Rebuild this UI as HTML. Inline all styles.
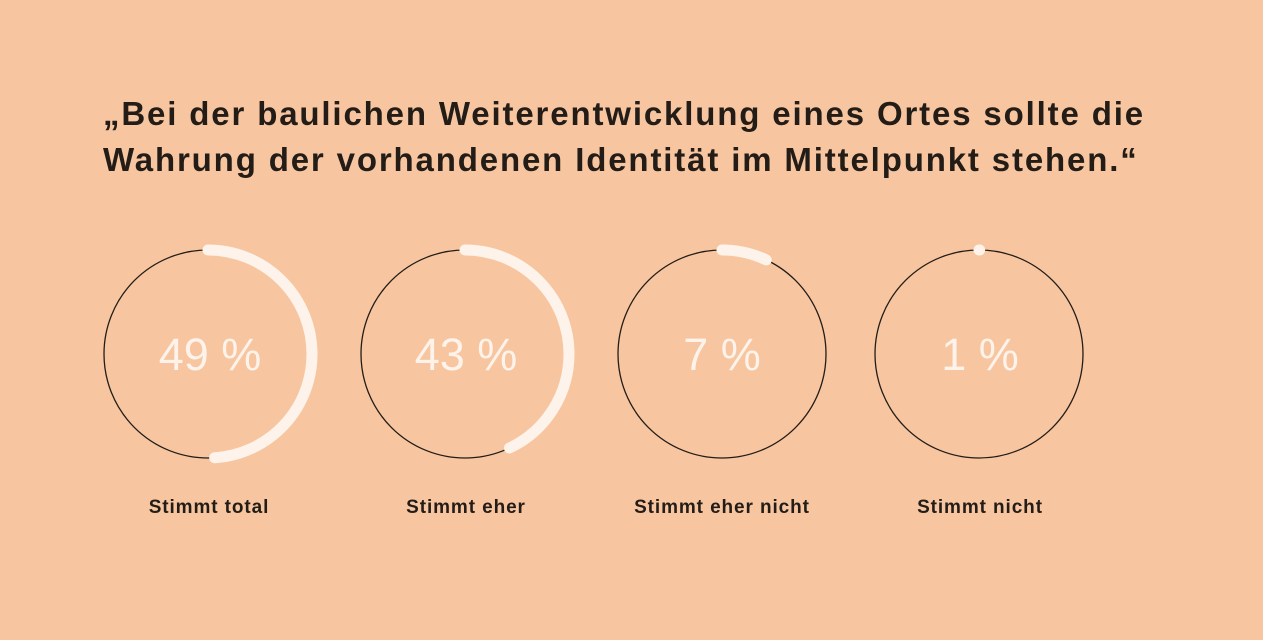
<!DOCTYPE html>
<html><head><meta charset="utf-8"><style>
html,body{margin:0;padding:0}
body{width:1263px;height:640px;background:#f7c6a0;position:relative;overflow:hidden;font-family:"Liberation Sans",sans-serif}
.t{position:absolute;left:103px;top:91px;font-size:33px;font-weight:bold;color:#231c17;line-height:46px;letter-spacing:1.85px;white-space:nowrap}
.l{position:absolute;top:497px;width:240px;text-align:center;font-size:19px;font-weight:bold;color:#231c17;letter-spacing:0.9px}
</style></head><body>
<div class="t">„Bei der baulichen Weiterentwicklung eines Ortes sollte die<br>Wahrung der vorhandenen Identität im Mittelpunkt stehen.“</div>
<svg width="1263" height="640" style="position:absolute;left:0;top:0">
<g fill="none">
<circle cx="208" cy="354" r="104" stroke="#231c17" stroke-width="1.3"/>
<circle cx="465" cy="354" r="104" stroke="#231c17" stroke-width="1.3"/>
<circle cx="722" cy="354" r="104" stroke="#231c17" stroke-width="1.3"/>
<circle cx="979" cy="354" r="104" stroke="#231c17" stroke-width="1.3"/>
<g stroke="#fdf3ea" stroke-width="11" stroke-linecap="round">
<circle cx="208" cy="354" r="104" pathLength="100" stroke-dasharray="49 100" transform="rotate(-90 208 354)"/>
<circle cx="465" cy="354" r="104" pathLength="100" stroke-dasharray="43 100" transform="rotate(-90 465 354)"/>
<circle cx="722" cy="354" r="104" pathLength="100" stroke-dasharray="7 100" transform="rotate(-90 722 354)"/>
<circle cx="979" cy="354" r="104" pathLength="100" stroke-dasharray="0.1 100" transform="rotate(-90 979 354)"/>
</g></g>
<g fill="#fdf3ea" font-family="Liberation Sans, sans-serif" font-size="45" text-anchor="middle">
<text x="210" y="370">49 %</text>
<text x="466" y="370">43 %</text>
<text x="722" y="370">7 %</text>
<text x="980" y="370">1 %</text>
</g></svg>
<div class="l" style="left:89px">Stimmt total</div>
<div class="l" style="left:346px">Stimmt eher</div>
<div class="l" style="left:602px">Stimmt eher nicht</div>
<div class="l" style="left:860px">Stimmt nicht</div>
</body></html>
